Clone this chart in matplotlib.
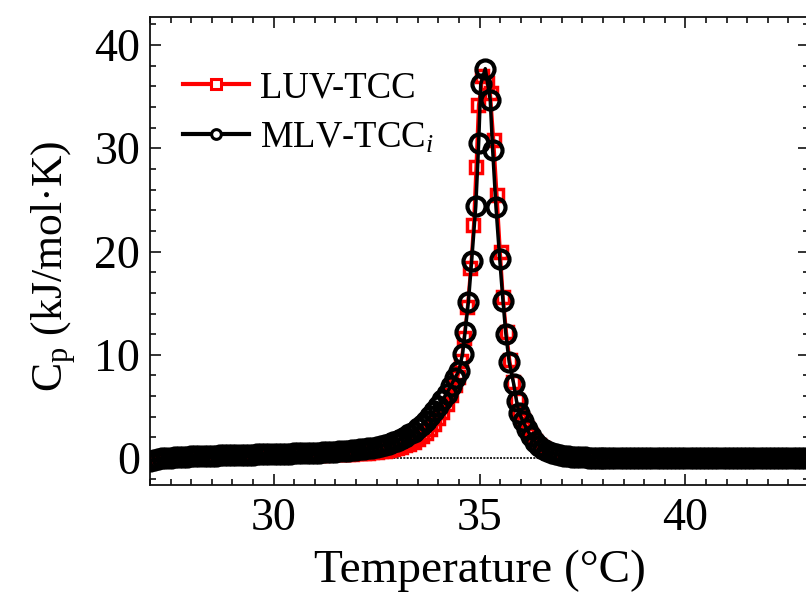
import matplotlib
matplotlib.use("Agg")
import matplotlib.pyplot as plt
from matplotlib.lines import Line2D
from matplotlib.ticker import MultipleLocator

plt.rcParams['font.family'] = ['Liberation Serif', 'DejaVu Serif']
plt.rcParams['mathtext.fontset'] = 'custom'
plt.rcParams['mathtext.rm'] = 'Liberation Serif'
plt.rcParams['mathtext.it'] = 'Liberation Serif:italic'

# ---------------- data ----------------
t_left = [27.0, 27.1, 27.2, 27.3, 27.4, 27.5, 27.6, 27.7, 27.8, 27.9,
          28.0, 28.1, 28.2, 28.3, 28.4, 28.5, 28.6, 28.7, 28.8, 28.9,
          29.0, 29.1, 29.2, 29.3, 29.4, 29.5, 29.6, 29.7, 29.8, 29.9,
          30.0, 30.1, 30.2, 30.3, 30.4, 30.5, 30.6, 30.7, 30.8, 30.9,
          31.0, 31.1, 31.2, 31.3, 31.4, 31.5, 31.6, 31.7, 31.8, 31.9,
          32.0, 32.1, 32.2, 32.3, 32.4, 32.5, 32.6, 32.7, 32.8, 32.9,
          33.0, 33.1, 33.2, 33.3, 33.4, 33.5, 33.6, 33.7, 33.8, 33.9,
          34.0, 34.1, 34.2, 34.3, 34.4]
t_right = [36.05, 36.15, 36.25, 36.35, 36.45, 36.55, 36.65, 36.75, 36.85, 36.95,
           37.05, 37.15, 37.25, 37.35, 37.45, 37.55, 37.65, 37.75, 37.85, 37.95,
           38.0, 38.1, 38.2, 38.3, 38.4, 38.5, 38.6, 38.7, 38.8, 38.9,
           39.0, 39.1, 39.2, 39.3, 39.4, 39.5, 39.6, 39.7, 39.8, 39.9,
           40.0, 40.1, 40.2, 40.3, 40.4, 40.5, 40.6, 40.7, 40.8, 40.9,
           41.0, 41.1, 41.2, 41.3, 41.4, 41.5, 41.6, 41.7, 41.8, 41.9,
           42.0, 42.1, 42.2, 42.3, 42.4, 42.5, 42.6, 42.7, 42.8, 42.9, 43.0]

# LUV-TCC (red squares)
t_luv_peak = [34.48, 34.55, 34.62, 34.70, 34.78, 34.85, 34.91, 34.97, 35.07, 35.17,
              35.27, 35.35, 35.43, 35.51, 35.58, 35.66, 35.74, 35.82, 35.90, 35.96]
cp_luv_left = [-0.18, -0.10, -0.05, -0.01, 0.02, 0.05, 0.07, 0.09, 0.11, 0.12,
               0.14, 0.15, 0.16, 0.17, 0.18, 0.19, 0.20, 0.21, 0.22, 0.22,
               0.23, 0.24, 0.24, 0.25, 0.25, 0.26, 0.26, 0.27, 0.27, 0.28,
               0.28, 0.29, 0.29, 0.30, 0.30, 0.31, 0.31, 0.32, 0.32, 0.33,
               0.34, 0.35, 0.35, 0.36, 0.37, 0.38, 0.39, 0.41, 0.42, 0.44,
               0.46, 0.48, 0.51, 0.54, 0.58, 0.62, 0.67, 0.73, 0.80, 0.88,
               0.98, 1.10, 1.24, 1.41, 1.61, 1.85, 2.13, 2.46, 2.85, 3.30,
               3.85, 4.50, 5.25, 6.10, 7.05]
cp_luv_peak = [7.9, 9.4, 11.6, 14.6, 18.4, 22.6, 28.2, 34.2, 37.0, 36.3,
               35.3, 30.8, 25.5, 20.0, 15.6, 12.2, 9.5, 7.4, 5.6, 4.5]
cp_luv_right = [3.7, 2.9, 2.2, 1.65, 1.25, 0.95, 0.72, 0.55, 0.42, 0.33,
                0.26, 0.20, 0.16, 0.13, 0.10, 0.08, 0.07, 0.05, 0.04, 0.03,
                0.03, 0.03, 0.02, 0.02, 0.02, 0.02, 0.01, 0.01, 0.01, 0.01,
                0.01, 0.01, 0.00, 0.00, 0.00, 0.00, 0.00, 0.00, 0.00, 0.00,
                0.00, -0.01, -0.01, -0.01, -0.01, -0.01, -0.01, -0.01, -0.01, -0.01,
                -0.02, -0.02, -0.02, -0.02, -0.02, -0.02, -0.02, -0.02, -0.02, -0.02,
                -0.02, -0.03, -0.03, -0.03, -0.03, -0.03, -0.03, -0.03, -0.03, -0.03, -0.03]

# MLV-TCC_i (black circles)
t_mlv_peak = [34.50, 34.59, 34.65, 34.73, 34.81, 34.91, 34.98, 35.03, 35.14, 35.26,
              35.32, 35.40, 35.49, 35.57, 35.64, 35.72, 35.83, 35.90, 35.96]
cp_mlv_left = [-0.25, -0.14, -0.07, -0.02, 0.02, 0.05, 0.08, 0.10, 0.12, 0.14,
               0.16, 0.17, 0.19, 0.20, 0.22, 0.23, 0.24, 0.26, 0.27, 0.28,
               0.30, 0.31, 0.32, 0.33, 0.34, 0.35, 0.36, 0.37, 0.38, 0.39,
               0.40, 0.41, 0.42, 0.43, 0.44, 0.45, 0.47, 0.48, 0.49, 0.50,
               0.52, 0.54, 0.56, 0.58, 0.60, 0.62, 0.65, 0.68, 0.71, 0.75,
               0.79, 0.84, 0.89, 0.95, 1.02, 1.10, 1.19, 1.29, 1.41, 1.54,
               1.70, 1.88, 2.08, 2.31, 2.57, 2.87, 3.21, 3.60, 4.04, 4.52,
               5.05, 5.62, 6.25, 6.95, 7.75]
cp_mlv_peak = [8.45, 10.1, 12.2, 15.1, 19.1, 24.4, 30.5, 36.2, 37.7, 34.7,
               29.8, 24.3, 19.3, 15.2, 12.0, 9.3, 7.2, 5.5, 4.4]
cp_mlv_right = [3.6, 2.8, 2.1, 1.6, 1.2, 0.9, 0.68, 0.52, 0.40, 0.31,
                0.24, 0.19, 0.15, 0.12, 0.10, 0.08, 0.06, 0.05, 0.04, 0.03,
                0.03, 0.02, 0.02, 0.02, 0.02, 0.01, 0.01, 0.01, 0.01, 0.01,
                0.01, 0.00, 0.00, 0.00, 0.00, 0.00, 0.00, 0.00, 0.00, 0.00,
                -0.01, -0.01, -0.01, -0.01, -0.01, -0.01, -0.01, -0.01, -0.01, -0.01,
                -0.02, -0.02, -0.02, -0.02, -0.02, -0.02, -0.02, -0.02, -0.02, -0.02,
                -0.02, -0.03, -0.03, -0.03, -0.03, -0.03, -0.03, -0.03, -0.03, -0.03, -0.03]

t_luv = t_left + t_luv_peak + t_right
cp_luv = cp_luv_left + cp_luv_peak + cp_luv_right
t_mlv = t_left + t_mlv_peak + t_right
cp_mlv = cp_mlv_left + cp_mlv_peak + cp_mlv_right

labels = ['LUV-TCC', r'MLV-TCC$_i$']
x_label = 'Temperature (°C)'
y_label = r'C$_\mathregular{p}$ (kJ/mol·K)'
x_ticks = [30, 35, 40]
y_ticks = [0, 10, 20, 30, 40]

# ---------------- figure ----------------
fig = plt.figure(figsize=(8.06, 5.94), dpi=100)
ax = fig.add_axes([150 / 806, 109 / 594, 659 / 806, 468 / 594])

ax.axhline(0, color='black', lw=1.2, ls=(0, (1.2, 0.8)), zorder=1)

ax.plot(t_luv, cp_luv, color='red', lw=2.0, marker='s', ms=8, mew=2.5,
        mfc='none', mec='red', zorder=2)
ax.plot(t_mlv, cp_mlv, color='black', lw=2.5, marker='o', ms=13, mew=3.0,
        mfc='none', mec='black', zorder=3)

ax.set_xlim(27, 43)
ax.set_ylim(-2.6, 42.7)
ax.set_xticks(x_ticks)
ax.set_yticks(y_ticks)
ax.xaxis.set_minor_locator(MultipleLocator(0.5))
ax.yaxis.set_minor_locator(MultipleLocator(2))
ax.tick_params(which='both', direction='in', top=True, right=True,
               width=1.2, labelsize=33, color='#111111')
ax.tick_params(which='major', length=8)
ax.tick_params(axis='y', which='major', pad=7)
ax.tick_params(axis='x', which='major', pad=9)
ax.tick_params(which='minor', length=4)
for s in ax.spines.values():
    s.set_linewidth(1.3)
    s.set_color('#111111')

ax.set_xlabel(x_label, fontsize=34, labelpad=7)
ax.set_ylabel(y_label, fontsize=31.5)
ax.yaxis.set_label_coords(-0.11, 0.468)

handles = [Line2D([], [], color='red', lw=3, marker='s', ms=7, mew=2.2,
                  mfc='white', mec='red'),
           Line2D([], [], color='black', lw=3, marker='o', ms=7, mew=2.2,
                  mfc='white', mec='black')]
ax.legend(handles, labels, loc='upper left', bbox_to_anchor=(0.05, 0.885),
          frameon=False, fontsize=26.5, handlelength=1.8, handletextpad=0.3,
          labelspacing=0.42, borderpad=0, borderaxespad=0)

fig.savefig('out.png', dpi=100)
